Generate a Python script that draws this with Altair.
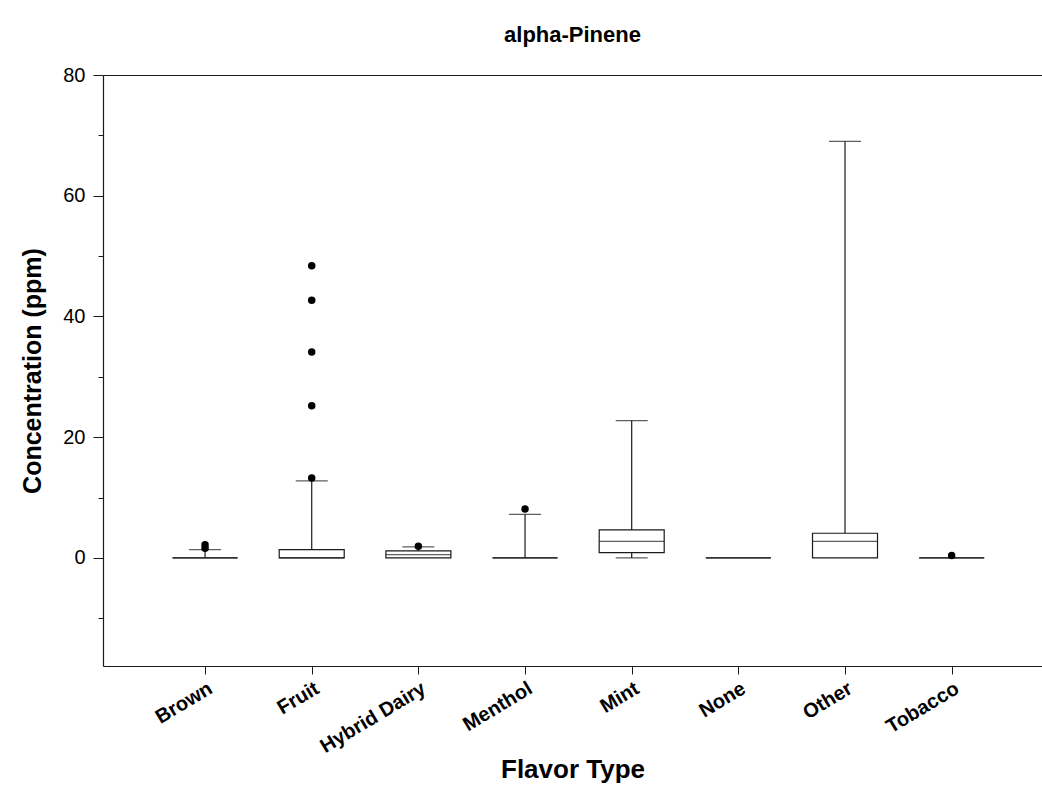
import altair as alt
import pandas as pd

# Summary statistics per flavor type (ppm)
flavors = ["Brown", "Fruit", "Hybrid Dairy", "Menthol", "Mint", "None", "Other", "Tobacco"]
q1 = [0.0, 0.0, 0.0, 0.0, 0.89, 0.0, 0.0, 0.0]
median = [0.0, 0.0, 0.56, 0.0, 2.76, 0.0, 2.76, 0.0]
q3 = [0.0, 1.39, 1.16, 0.0, 4.64, 0.0, 4.09, 0.0]
whisker_low = [0.0, 0.0, 0.0, 0.0, 0.0, 0.0, 0.0, 0.0]
whisker_high = [1.39, 12.75, 1.82, 7.23, 22.75, 0.0, 69.0, 0.0]

# Points beyond the whiskers
outlier_flavor = ["Brown", "Brown", "Fruit", "Fruit", "Fruit", "Fruit", "Fruit",
                  "Hybrid Dairy", "Menthol", "Tobacco"]
outlier_value = [2.2, 1.6, 13.25, 25.2, 34.1, 42.7, 48.4, 1.94, 8.1, 0.4]

major_ticks = [0, 20, 40, 60, 80]
minor_ticks = [-10, 10, 30, 50, 70]

pos = {f: i + 1 for i, f in enumerate(flavors)}

boxes = pd.DataFrame({
    "flavor": flavors,
    "pos": [pos[f] for f in flavors],
    "q1": q1, "median": median, "q3": q3,
})

whisk_rows = []
for f, lo, a, b, hi in zip(flavors, whisker_low, q1, q3, whisker_high):
    if hi > b:
        whisk_rows.append({"pos": pos[f], "start": b, "end": hi})
    if lo < a:
        whisk_rows.append({"pos": pos[f], "start": a, "end": lo})
whiskers = pd.DataFrame(whisk_rows)

outliers = pd.DataFrame({
    "pos": [pos[f] for f in outlier_flavor],
    "value": outlier_value,
})

label_expr = "[" + ",".join("'" + f + "'" for f in flavors) + "][datum.value - 1]"

FONT = "Liberation Sans"
INK = "#1a1a1a"

x_scale = alt.Scale(domain=[0.09, 8.8], nice=False, zero=False)
y_scale = alt.Scale(domain=[-17.9, 80], nice=False, zero=False)

x_bottom = alt.Axis(
    orient="bottom", values=list(range(1, len(flavors) + 1)), labelExpr=label_expr,
    title="Flavor Type", titleFont=FONT, titleFontSize=26, titleFontWeight="bold",
    titleColor="black", titlePadding=0,
    labelFont=FONT, labelFontSize=20, labelFontWeight="bold", labelColor="black",
    labelAngle=329, labelAlign="right", labelBaseline="top", labelPadding=4,
    tickSize=8, tickColor=INK, tickWidth=1, domainColor=INK, domainWidth=1.2,
    grid=False, labelFlush=False, labelOverlap=False,
)
y_left = alt.Axis(
    orient="left", values=major_ticks, format="d",
    title="Concentration (ppm)", titleFont=FONT, titleFontSize=25,
    titleFontWeight="bold", titleColor="black", titlePadding=17,
    labelFont=FONT, labelFontSize=20, labelColor="black", labelPadding=8,
    tickSize=10, tickColor=INK, tickWidth=1, domainColor=INK, domainWidth=1.2,
    grid=False,
)
x_top = alt.Axis(orient="top", labels=False, ticks=False, title=None,
                 domainColor=INK, domainWidth=1.2, grid=False)
y_minor = alt.Axis(orient="left", values=minor_ticks, labels=False, domain=False,
                   title=None, tickSize=5, tickColor=INK, tickWidth=1, grid=False)

box_layer = alt.Chart(boxes).mark_bar(
    size=65, fill="white", stroke=INK, strokeWidth=1.2
).encode(
    x=alt.X("pos:Q", scale=x_scale, axis=x_bottom),
    y=alt.Y("q1:Q", scale=y_scale, axis=y_left),
    y2="q3:Q",
)

median_layer = alt.Chart(boxes).mark_tick(
    orient="horizontal", size=65, thickness=1.2, color=INK
).encode(
    x=alt.X("pos:Q", scale=x_scale, axis=None),
    y=alt.Y("median:Q", scale=y_scale, axis=None),
)

whisker_layer = alt.Chart(whiskers).mark_rule(color=INK, strokeWidth=1.2).encode(
    x=alt.X("pos:Q", scale=x_scale, axis=None),
    y=alt.Y("start:Q", scale=y_scale, axis=None),
    y2="end:Q",
)

cap_layer = alt.Chart(whiskers).mark_tick(
    orient="horizontal", size=32, thickness=1.2, color=INK
).encode(
    x=alt.X("pos:Q", scale=x_scale, axis=None),
    y=alt.Y("end:Q", scale=y_scale, axis=None),
)

outlier_layer = alt.Chart(outliers).mark_point(
    filled=True, color="black", size=56, opacity=1
).encode(
    x=alt.X("pos:Q", scale=x_scale, axis=x_top),
    y=alt.Y("value:Q", scale=y_scale, axis=y_minor),
)

chart = alt.layer(
    box_layer, whisker_layer, cap_layer, median_layer, outlier_layer
).resolve_axis(
    x="independent", y="independent"
).properties(
    width=939, height=591,
    title=alt.TitleParams("alpha-Pinene", font=FONT, fontSize=22, fontWeight="bold",
                          color="black", anchor="middle", offset=18),
    autosize=alt.AutoSizeParams(type="none"),
    padding={"left": 103, "top": 75, "right": 0, "bottom": 123},
).configure_view(
    stroke=None
).configure(
    background="white"
)

chart.save("out.html", embed_options={"renderer": "svg", "actions": False})
